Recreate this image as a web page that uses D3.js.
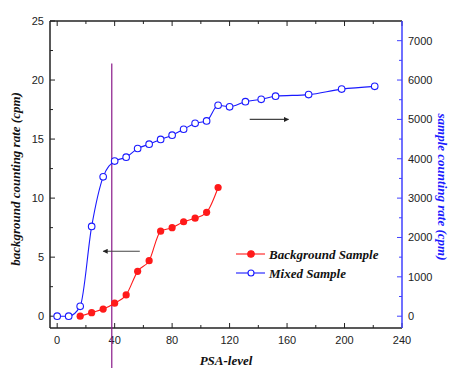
<!DOCTYPE html>
<html lang="en">
<head>
<meta charset="UTF-8">
<title>PSA-level counting rate</title>
<script src="https://d3js.org/d3.v7.min.js"></script>
<style>
  body { margin: 0; background: #fff; }
  svg { display: block; }
  .tick-label { font-family: "Liberation Sans", Arial, sans-serif; font-size: 11px; fill: #222; }
  .title { font-family: "Liberation Serif", "Times New Roman", serif; font-weight: bold; font-style: italic; font-size: 13px; }
</style>
</head>
<body>
<div id="chart"></div>
<script>
// PSA-level values (x)
const bgLevel = [16, 24, 32, 40, 48, 56, 64, 72, 80, 88, 96, 104, 112];
// background counting rate (cpm), left axis
const bgRate = [0, 0.3, 0.6, 1.1, 1.8, 3.8, 4.7, 7.2, 7.5, 8.0, 8.3, 8.8, 10.9];

const mixLevel = [0, 8, 16, 24, 32, 40, 48, 56, 64, 72, 80, 88, 96, 104, 112, 120, 131, 142, 152, 175, 198, 221];
// sample counting rate (cpm), right axis
const mixRate = [0, 0, 250, 2280, 3540, 3940, 4040, 4260, 4370, 4490, 4600, 4750, 4900, 4960, 5360, 5320, 5450, 5510, 5590, 5630, 5770, 5840];

const xTicks = [0, 40, 80, 120, 160, 200, 240];
const leftTicks = [0, 5, 10, 15, 20, 25];
const rightTicks = [0, 1000, 2000, 3000, 4000, 5000, 6000, 7000];
const markerLevel = 38;

const W = 450, H = 368;
const m = { left: 50, right: 48, top: 21, bottom: 40 };

const svg = d3.select("#chart").append("svg").attr("width", W).attr("height", H);

const x = d3.scaleLinear().domain([-5, 240]).range([m.left, W - m.right]);
const yL = d3.scaleLinear().domain([-1, 25]).range([H - m.bottom, m.top]);
const yR = d3.scaleLinear().domain([-300, 7500]).range([H - m.bottom, m.top]);

const x0 = m.left, x1 = W - m.right, y0 = H - m.bottom, y1 = m.top;
const blue = "#1a1aff", axisBlue = "#4040ff";

// minor + major ticks, drawn inward
function ticks(g, vals, fn, len, color) {
  g.selectAll(null).data(vals).enter().append("line")
    .attr("x1", d => fn(d)[0]).attr("y1", d => fn(d)[1])
    .attr("x2", d => fn(d)[0] + fn(d)[2] * len).attr("y2", d => fn(d)[1] + fn(d)[3] * len)
    .attr("stroke", color).attr("stroke-width", 1);
}
const axes = svg.append("g");
// bottom
ticks(axes, d3.range(0, 241, 40), d => [x(d), y0, 0, -1], 5, "#222");
ticks(axes, d3.range(20, 241, 40), d => [x(d), y0, 0, -1], 3, "#222");
// top
ticks(axes, d3.range(0, 241, 40), d => [x(d), y1, 0, 1], 5, "#222");
ticks(axes, d3.range(20, 241, 40), d => [x(d), y1, 0, 1], 3, "#222");
// left
ticks(axes, leftTicks, d => [x0, yL(d), 1, 0], 5, "#222");
ticks(axes, d3.range(2.5, 25, 5), d => [x0, yL(d), 1, 0], 3, "#222");
// right
ticks(axes, rightTicks, d => [x1, yR(d), -1, 0], 5, axisBlue);
ticks(axes, d3.range(500, 7500, 1000), d => [x1, yR(d), -1, 0], 3, axisBlue);

axes.append("line").attr("x1", x0).attr("x2", x1).attr("y1", y1).attr("y2", y1).attr("stroke", "#222").attr("stroke-width", 1.5);
axes.append("line").attr("x1", x0).attr("x2", x1).attr("y1", y0).attr("y2", y0).attr("stroke", "#222").attr("stroke-width", 1.5);
axes.append("line").attr("x1", x0).attr("x2", x0).attr("y1", y1).attr("y2", y0).attr("stroke", "#222").attr("stroke-width", 1.5);
axes.append("line").attr("x1", x1).attr("x2", x1).attr("y1", y1).attr("y2", y0).attr("stroke", axisBlue).attr("stroke-width", 1.5);

// tick labels
svg.append("g").selectAll("text").data(xTicks).enter().append("text")
  .attr("class", "tick-label").attr("x", d => x(d)).attr("y", y0 + 16)
  .attr("text-anchor", "middle").text(d => d);
svg.append("g").selectAll("text").data(leftTicks).enter().append("text")
  .attr("class", "tick-label").attr("x", x0 - 6).attr("y", d => yL(d) + 4)
  .attr("text-anchor", "end").text(d => d);
svg.append("g").selectAll("text").data(rightTicks).enter().append("text")
  .attr("class", "tick-label").attr("x", x1 + 6).attr("y", d => yR(d) + 4)
  .attr("text-anchor", "start").text(d => d);

// axis titles
svg.append("text").attr("class", "title").attr("text-anchor", "middle")
  .attr("transform", `translate(20,179) rotate(-90)`).attr("fill", "#111")
  .text("background counting rate (cpm)");
svg.append("text").attr("class", "title").attr("text-anchor", "middle")
  .attr("transform", `translate(438,187) rotate(90)`).attr("fill", blue)
  .text("sample counting rate (cpm)");
svg.append("text").attr("class", "title").attr("text-anchor", "middle")
  .attr("x", 226).attr("y", 365).attr("fill", "#111").text("PSA-level");

// vertical marker line
svg.append("line").attr("x1", x(markerLevel)).attr("x2", x(markerLevel))
  .attr("y1", yL(21.4)).attr("y2", H)
  .attr("stroke", "#8a1a8a").attr("stroke-width", 1.2);

// arrows
const defs = svg.append("defs");
defs.append("marker").attr("id", "ah").attr("viewBox", "0 0 10 10")
  .attr("refX", 9).attr("refY", 5).attr("markerWidth", 8).attr("markerHeight", 5)
  .attr("markerUnits", "userSpaceOnUse").attr("orient", "auto")
  .append("path").attr("d", "M0,0L10,5L0,10Z").attr("fill", "#222");
svg.append("line").attr("x1", x(57.5)).attr("x2", x(32)).attr("y1", yL(5.5)).attr("y2", yL(5.5))
  .attr("stroke", "#444").attr("stroke-width", 1.2).attr("marker-end", "url(#ah)");
svg.append("line").attr("x1", x(134)).attr("x2", x(161)).attr("y1", yR(5000)).attr("y2", yR(5000))
  .attr("stroke", "#444").attr("stroke-width", 1.2).attr("marker-end", "url(#ah)");

// series
const bg = bgLevel.map((v, i) => [v, bgRate[i]]);
const mix = mixLevel.map((v, i) => [v, mixRate[i]]);

svg.append("path").datum(mix).attr("fill", "none").attr("stroke", blue).attr("stroke-width", 1.1)
  .attr("d", d3.line().x(d => x(d[0])).y(d => yR(d[1])).curve(d3.curveMonotoneX));
svg.append("path").datum(bg).attr("fill", "none").attr("stroke", "#ff1a1a").attr("stroke-width", 1.1)
  .attr("d", d3.line().x(d => x(d[0])).y(d => yL(d[1])).curve(d3.curveMonotoneX));

svg.append("g").selectAll("circle").data(mix).enter().append("circle")
  .attr("cx", d => x(d[0])).attr("cy", d => yR(d[1])).attr("r", 3.3)
  .attr("fill", "#fff").attr("stroke", blue).attr("stroke-width", 1.1);
svg.append("g").selectAll("circle").data(bg).enter().append("circle")
  .attr("cx", d => x(d[0])).attr("cy", d => yL(d[1])).attr("r", 3.6)
  .attr("fill", "#ff1a1a");

// legend
const legend = svg.append("g").attr("transform", "translate(236,254)");
const items = [
  { label: "Background Sample", color: "#ff1a1a", filled: true },
  { label: "Mixed Sample", color: blue, filled: false }
];
items.forEach((it, i) => {
  const g = legend.append("g").attr("transform", `translate(0,${i * 19})`);
  g.append("line").attr("x1", 0).attr("x2", 29).attr("stroke", it.color).attr("stroke-width", 1.1);
  g.append("circle").attr("cx", 15).attr("r", it.filled ? 3.3 : 3)
    .attr("fill", it.filled ? it.color : "#fff").attr("stroke", it.color).attr("stroke-width", 1.1);
  g.append("text").attr("class", "title").attr("x", 33).attr("y", 4.5).attr("fill", "#111").text(it.label);
});
</script>
</body>
</html>
